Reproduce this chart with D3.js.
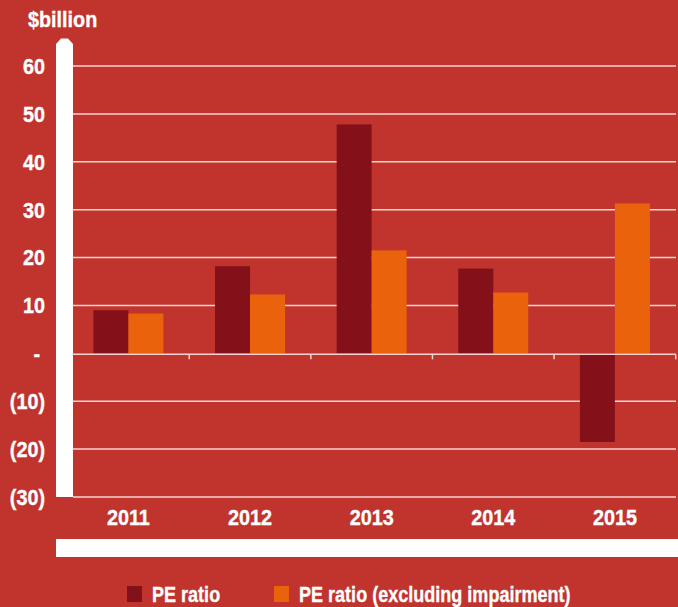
<!DOCTYPE html>
<html>
<head>
<meta charset="utf-8">
<script src="https://cdn.jsdelivr.net/npm/d3@7"></script>
<style>
  html, body { margin: 0; padding: 0; background: #c1332d; }
  svg { display: block; }
  text { font-family: "Liberation Sans", Arial, sans-serif; font-weight: bold; fill: #fff; stroke: #fff; stroke-width: 0.35px; }
</style>
</head>
<body>
<div id="chart"></div>
<script>
// data
const years = ["2011", "2012", "2013", "2014", "2015"];
const series = ["PE ratio", "PE ratio (excluding impairment)"];
const peRatio = [9.0, 18.2, 47.8, 17.7, -18.5];
const peExImpairment = [8.3, 12.3, 21.5, 12.7, 31.3];
const tickValues = [60, 50, 40, 30, 20, 10, 0, -10, -20, -30];
const tickLabels = ["60", "50", "40", "30", "20", "10", "-", "(10)", "(20)", "(30)"];
const colors = ["#84111a", "#ea630c"];

const width = 678, height = 607;

const svg = d3.select("#chart").append("svg")
    .attr("width", width)
    .attr("height", height);

svg.append("rect").attr("width", width).attr("height", height).attr("fill", "#c1332d");

const y = d3.scaleLinear().domain([-30, 60]).range([497, 66]);
const x0 = d3.scaleBand().domain(years).range([67.6, 675.7]);
const x1 = d3.scaleBand().domain(series).range([0, x0.bandwidth()]).paddingOuter(0.737);

// condensed look: squeeze the text horizontally
const squeeze = (sx) => (x, yy) => `translate(${x},${yy}) scale(${sx},1)`;
const axisText = squeeze(0.9);
const legendText = squeeze(0.82);

// gridlines
svg.append("g").selectAll("line")
    .data(tickValues.filter(d => d !== 0))
    .enter()
    .append("line")
    .attr("x1", 73).attr("x2", 676)
    .attr("y1", d => y(d)).attr("y2", d => y(d))
    .style("stroke", "#f3d6d3")
    .style("stroke-width", 1.5);

// bars
const rows = years.map((yr, i) => ({ year: yr, values: [peRatio[i], peExImpairment[i]] }));

svg.append("g").selectAll("g")
    .data(rows)
    .enter()
    .append("g")
    .attr("transform", d => `translate(${x0(d.year)},0)`)
    .selectAll("rect")
    .data(d => d.values.map((v, k) => ({ key: series[k], value: v, k })))
    .enter()
    .append("rect")
    .attr("x", d => x1(d.key))
    .attr("width", x1.bandwidth())
    .attr("y", d => y(Math.max(0, d.value)))
    .attr("height", d => Math.abs(y(d.value) - y(0)))
    .attr("fill", d => colors[d.k]);

// zero line with category ticks
svg.append("line")
    .attr("x1", 73).attr("x2", 676)
    .attr("y1", y(0) + 1).attr("y2", y(0) + 1)
    .style("stroke", "#f3d6d3")
    .style("stroke-width", 1.5);

svg.append("g").selectAll("line")
    .data(years)
    .enter()
    .append("line")
    .attr("x1", d => x0(d) + x0.step()).attr("x2", d => x0(d) + x0.step())
    .attr("y1", y(0) + 1).attr("y2", y(0) + 6)
    .style("stroke", "#f3d6d3")
    .style("stroke-width", 1.5);

// white vertical axis bar with pointed top
svg.append("path")
    .attr("d", "M56,497 L56,44 L61,38.5 L68,38.5 L73,44 L73,497 Z")
    .attr("fill", "#fff");

// white horizontal band under the x labels
svg.append("rect")
    .attr("x", 56).attr("y", 539)
    .attr("width", width - 56).attr("height", 18)
    .attr("fill", "#fff");

// y labels
svg.append("g").selectAll("text")
    .data(tickValues)
    .enter()
    .append("text")
    .attr("transform", (d, i) => axisText(tickLabels[i] === "-" ? 40 : 45, y(d)))
    .attr("dy", "0.36em")
    .attr("text-anchor", "end")
    .attr("font-size", "22px")
    .text((d, i) => tickLabels[i]);

svg.append("text")
    .attr("transform", axisText(28, 27))
    .attr("font-size", "22px")
    .text("$billion");

// x labels
svg.append("g").selectAll("text")
    .data(years)
    .enter()
    .append("text")
    .attr("transform", d => axisText(x0(d) + x0.bandwidth() / 2, 525))
    .attr("text-anchor", "middle")
    .attr("font-size", "22px")
    .text(d => d);

// legend
const legendX = [127, 274];
const legend = svg.append("g").selectAll("g")
    .data(series)
    .enter()
    .append("g")
    .attr("transform", (d, i) => `translate(${legendX[i]},586)`);

legend.append("rect")
    .attr("width", 15).attr("height", 16)
    .attr("fill", (d, i) => colors[i]);

legend.append("text")
    .attr("transform", legendText(25, 15.5))
    .attr("font-size", "22px")
    .text(d => d);
</script>
</body>
</html>
